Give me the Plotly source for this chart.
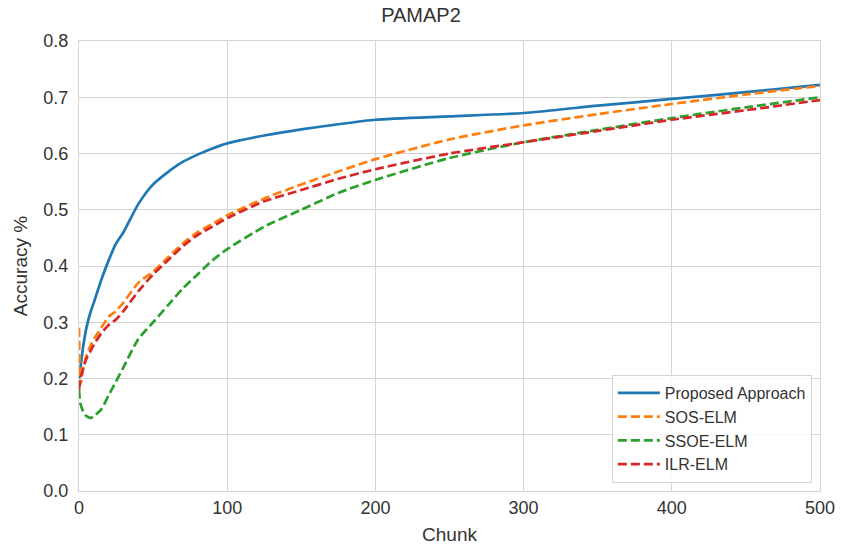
import plotly.graph_objects as go

chunks = [0, 1, 3, 5, 8, 10, 15, 20, 25, 30, 40, 50, 60, 70, 80, 90, 100, 125, 150, 175, 200, 250, 300, 350, 400, 450, 500]
proposed = [0.2, 0.22, 0.26, 0.29, 0.32, 0.335, 0.375, 0.41, 0.44, 0.46, 0.51, 0.545, 0.567, 0.585, 0.598, 0.609, 0.618, 0.632, 0.643, 0.652, 0.66, 0.666, 0.672, 0.685, 0.697, 0.709, 0.722]
sos_elm = [0.29, 0.19, 0.22, 0.24, 0.26, 0.27, 0.29, 0.31, 0.32, 0.335, 0.37, 0.39, 0.415, 0.44, 0.46, 0.475, 0.49, 0.52, 0.545, 0.568, 0.59, 0.625, 0.65, 0.67, 0.688, 0.705, 0.72]
ssoe_elm = [0.18, 0.155, 0.14, 0.133, 0.13, 0.133, 0.145, 0.17, 0.195, 0.22, 0.27, 0.3, 0.33, 0.36, 0.385, 0.41, 0.43, 0.47, 0.5, 0.53, 0.553, 0.592, 0.62, 0.642, 0.663, 0.682, 0.7]
ilr_elm = [0.18, 0.2, 0.22, 0.235, 0.25, 0.26, 0.28, 0.295, 0.305, 0.32, 0.355, 0.385, 0.41, 0.435, 0.455, 0.47, 0.485, 0.515, 0.535, 0.555, 0.572, 0.6, 0.62, 0.64, 0.66, 0.677, 0.695]

series = [
    ("Proposed Approach", proposed, "#1f77b4", "solid"),
    ("SOS-ELM", sos_elm, "#ff7f0e", "9px,4px"),
    ("SSOE-ELM", ssoe_elm, "#2ca02c", "9px,4px"),
    ("ILR-ELM", ilr_elm, "#d62728", "9px,4px"),
]

fig = go.Figure()
for name, vals, color, dash in series:
    fig.add_trace(go.Scatter(x=chunks, y=vals, mode="lines", name=name,
                             line=dict(color=color, width=2.7, dash=dash, shape="spline", smoothing=0.6)))

font = "Liberation Sans, Arial, sans-serif"
fig.update_layout(
    width=842, height=547,
    margin=dict(l=79, r=22, t=41, b=56),
    paper_bgcolor="white", plot_bgcolor="white",
    font=dict(family=font, color="#333333", size=17),
    title=dict(text="PAMAP2", x=0.5, xanchor="center", y=0.985, yanchor="top",
               font=dict(size=20, color="#333333")),
    xaxis=dict(range=[0, 500], tickvals=[0, 100, 200, 300, 400, 500],
               showgrid=True, gridcolor="#d4d4d4", gridwidth=1, automargin=False,
               showline=True, linecolor="#d4d4d4", mirror=True, zeroline=False,
               tickfont=dict(size=18), ticks="",
               title=dict(text="Chunk", font=dict(size=19), standoff=11)),
    yaxis=dict(range=[0, 0.8], tickvals=[0, 0.1, 0.2, 0.3, 0.4, 0.5, 0.6, 0.7, 0.8],
               tickformat=".1f", ticklabelstandoff=6, automargin=False,
               showgrid=True, gridcolor="#d4d4d4", gridwidth=1,
               showline=True, linecolor="#d4d4d4", mirror=True, zeroline=False,
               tickfont=dict(size=18), ticks="",
               title=dict(text="Accuracy %", font=dict(size=19), standoff=10)),
    legend=dict(x=0.989, y=0.018, xanchor="right", yanchor="bottom",
                bgcolor="rgba(255,255,255,0.85)", bordercolor="#d4d4d4", borderwidth=1,
                font=dict(size=16, color="#333333"), tracegroupgap=0, itemwidth=42),
    showlegend=True,
)

fig.write_html("out.html")
